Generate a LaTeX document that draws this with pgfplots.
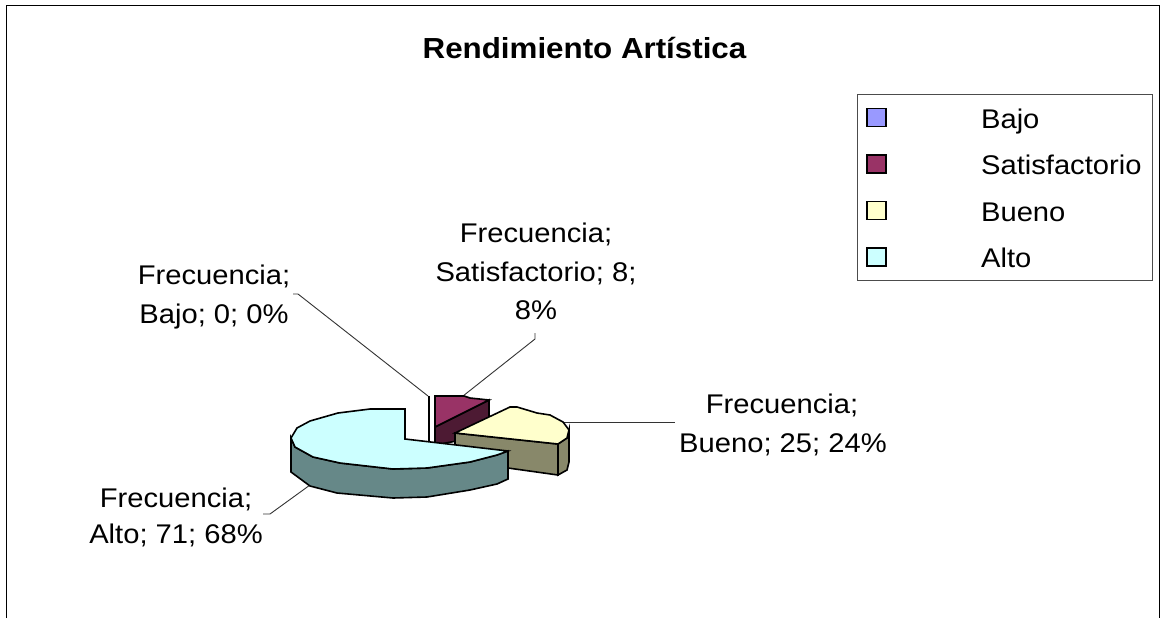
\documentclass[border=0pt]{standalone}
\usepackage{pgfplots}
\pgfplotsset{compat=1.18}
\usepackage{fontspec}
\setmainfont[FakeStretch=1.08]{Liberation Sans}
\definecolor{bajo}{HTML}{9999FF}
\definecolor{sat}{HTML}{993366}
\definecolor{satside}{HTML}{4D1A33}
\definecolor{bueno}{HTML}{FFFFCC}
\definecolor{buenoside}{HTML}{88886A}
\definecolor{alto}{HTML}{CCFFFF}
\definecolor{altoside}{HTML}{668888}
\tikzset{lbl/.style={font=\fontsize{27}{30}\selectfont, anchor=base}}
\begin{document}
\begin{tikzpicture}
\begin{axis}[
  scale only axis, width=1161pt, height=618pt,
  xmin=0, xmax=1161, ymin=0, ymax=618, y dir=reverse,
  axis lines=none, clip=false,
  legend cell align=left,
  legend style={at={(857/1161,1-94/618)}, anchor=north west, draw=black!70, line width=0.8pt,
    font=\fontsize{27}{30}\selectfont, inner xsep=9pt, inner ysep=9pt,
    row sep=18pt, text height=23pt, text depth=0pt},
  legend image code/.code={
    \draw[#1, draw=black, line width=1.4pt, solid] (0pt,-9pt) rectangle (19pt,9pt);
    \path[draw=none, fill=none] (0pt,0pt) -- (112pt,0pt);
  },
]
% white page and frame
\addplot[forget plot, draw=none, fill=white] coordinates {(0,0) (1161,0) (1161,618) (0,618)} -- cycle;
\addplot[forget plot, draw=black, line width=1.6pt] coordinates {(6.5,618) (6.5,5.5) (1159.5,5.5) (1159.5,618)};
% leader lines
\addplot[forget plot, draw=black!80, line width=0.9pt] coordinates {(293,294) (298,294) (428,396)};
\addplot[forget plot, draw=black!80, line width=0.9pt] coordinates {(535,333) (535,339) (463,396)};
\addplot[forget plot, draw=black!80, line width=0.9pt] coordinates {(563,422) (675,422)};
\addplot[forget plot, draw=black!80, line width=0.9pt] coordinates {(263,514) (270,514) (310,485)};
% Bajo: 0 %
\addplot[fill=bajo, draw=black, line width=1.6pt] coordinates {(429,396) (429,441)};
\addlegendentry{Bajo}
% Satisfactorio
\addplot[forget plot, fill=satside, draw=black, line width=1.6pt] coordinates {(435,427) (489,400) (489,435) (435,445)} -- cycle;
\addplot[fill=sat, draw=black, line width=1.6pt] coordinates {(435,396) (464,396) (470,398) (489,400) (435,427)} -- cycle;
\addlegendentry{Satisfactorio}
% Bueno
\addplot[forget plot, fill=buenoside, draw=black, line width=1.6pt] coordinates {(455,433) (558,444) (558,475) (508,468) (455,462)} -- cycle;
\addplot[forget plot, fill=buenoside, draw=black, line width=1.6pt] coordinates {(558,444) (567,438) (569,430) (569,462) (567,470) (558,475)} -- cycle;
\addplot[fill=bueno, draw=black, line width=1.6pt] coordinates {(455,433) (510,407) (517,407) (537,413) (550,415) (563,422) (569,430) (567,438) (558,444)} -- cycle;
\addlegendentry{Bueno}
% Alto
\addplot[forget plot, fill=altoside, draw=black, line width=1.6pt] coordinates {(291,438) (295,447) (313,457) (340,463) (393,469) (427,468) (470,462) (497,455) (508,451) (508,479) (497,484) (470,490) (427,497) (393,498) (337,493) (310,486) (291,472)} -- cycle;
\addplot[fill=alto, draw=black, line width=1.6pt] coordinates {(405,439) (405,409) (370,409) (338,413) (310,421) (297,428) (291,438) (295,447) (313,457) (340,463) (393,469) (427,468) (470,462) (497,455) (508,451)} -- cycle;
\addlegendentry{Alto}
% texts
\node[font=\bfseries\fontsize{29}{32}\selectfont, anchor=base] at (axis cs:584.5,58) {Rendimiento Artística};
\node[lbl] at (axis cs:214,284) {Frecuencia;};
\node[lbl] at (axis cs:214,323) {Bajo; 0; 0\%};
\node[lbl] at (axis cs:536,242) {Frecuencia;};
\node[lbl] at (axis cs:536,281) {Satisfactorio; 8;};
\node[lbl] at (axis cs:536,319) {8\%};
\node[lbl] at (axis cs:782,413) {Frecuencia;};
\node[lbl] at (axis cs:783,452) {Bueno; 25; 24\%};
\node[lbl] at (axis cs:176,507) {Frecuencia;};
\node[lbl] at (axis cs:176,543) {Alto; 71; 68\%};
\end{axis}
\end{tikzpicture}
\end{document}
